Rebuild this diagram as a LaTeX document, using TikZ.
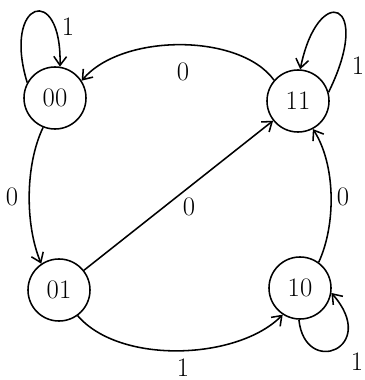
\documentclass[tikz,border=0pt]{standalone}
\usetikzlibrary{arrows.meta}

\begin{document}
\begin{tikzpicture}[x=0.025cm, y=-0.025cm, line width=1.1pt, font=\fontsize{19}{22}\selectfont,
    state/.style={draw, circle, minimum size=1.55cm, inner sep=0pt},
    lbl/.style={inner sep=1pt},
    arr/.style={-{Straight Barb[length=2.2mm,width=3.2mm]}}]
  \useasboundingbox (0,0) rectangle (364,380);

  % states
  \node[state] (s00) at (55,98)   {00};
  \node[state] (s11) at (298,101) {11};
  \node[state] (s01) at (59,290)  {01};
  \node[state] (s10) at (300,288) {10};

  % self loops
  \draw[arr] (s00.151) .. controls (2,0) and (62,-18) .. (s00.81);
  \draw[arr] (s11.16) .. controls (374,0) and (318,-18) .. (s11.86);
  \draw[arr] (s10.268) .. controls (305,378) and (380,348) .. (s10.-9);

  % transitions
  \draw[arr] (s11.139) .. controls (240,33) and (122,33) .. (s00.33);
  \draw[arr] (s00.-112) .. controls (25,165) and (25,225) .. (s01.124);
  \draw[arr] (s01) -- (s11);
  \draw[arr] (s01.-54) .. controls (120,365) and (238,360) .. (s10.237);
  \draw[arr] (s10.54) .. controls (336,225) and (336,165) .. (s11.-62);

  % labels
  \node[lbl] (l00) at (68,27)   {1};
  \node[lbl] (l11) at (358,66)  {1};
  \node[lbl] (l10) at (357,362) {1};
  \node[lbl] (la)  at (183,72)  {0};
  \node[lbl] (lb)  at (12,197)  {0};
  \node[lbl] (lc)  at (189,207) {0};
  \node[lbl] (ld)  at (343,197) {0};
  \node[lbl] (le)  at (183,368) {1};
\end{tikzpicture}
\end{document}
